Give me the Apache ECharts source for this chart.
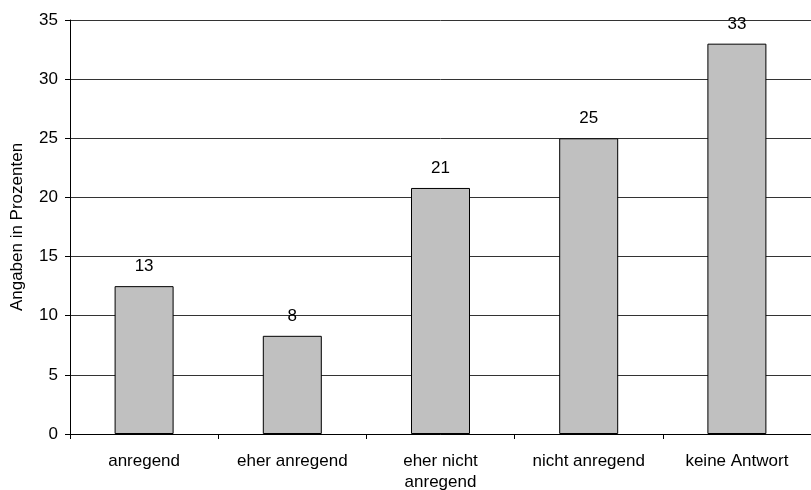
<!DOCTYPE html>
<html>
<head>
<meta charset="utf-8">
<script src="https://cdn.jsdelivr.net/npm/echarts@6/dist/echarts.min.js"></script>
<style>
  html, body { margin: 0; padding: 0; background: #fff; }
  #chart { width: 811px; height: 490px; }
</style>
</head>
<body>
<div id="chart"></div>
<script>
// Antworten und ihre Anteile in Prozent
const categories = ['anregend', 'eher anregend', 'eher nicht\nanregend', 'nicht anregend', 'keine Antwort'];
const percentages = [12.5, 8.3, 20.8, 25, 33];
const yTicks = { min: 0, max: 35, interval: 5 };
const yAxisTitle = 'Angaben in Prozenten';

const chart = echarts.init(document.getElementById('chart'), null, { renderer: 'canvas' });
const font = 'Liberation Sans, Arial, sans-serif';

chart.setOption({
  animation: false,
  grid: { left: 70, right: 0, top: 20, bottom: 56, containLabel: false, outerBoundsMode: 'none' },
  xAxis: {
    type: 'category',
    data: categories,
    axisLine: { lineStyle: { color: '#000', width: 1 } },
    axisTick: { show: true, length: 5, lineStyle: { color: '#000' } },
    axisLabel: { color: '#000', fontFamily: font, fontSize: 17, margin: 17, lineHeight: 21 },
    splitLine: { show: false }
  },
  yAxis: {
    type: 'value',
    min: yTicks.min,
    max: yTicks.max,
    interval: yTicks.interval,
    name: yAxisTitle,
    nameLocation: 'middle',
    nameGap: 44,
    nameTextStyle: { color: '#000', fontFamily: font, fontSize: 17 },
    axisLine: { show: true, lineStyle: { color: '#000', width: 1 } },
    axisTick: { show: true, length: 5, lineStyle: { color: '#000' } },
    axisLabel: { color: '#000', fontFamily: font, fontSize: 17, margin: 12 },
    splitLine: { show: true, lineStyle: { color: '#333', width: 1 } }
  },
  series: [{
    type: 'bar',
    data: percentages,
    barWidth: 59,
    itemStyle: { color: '#c0c0c0', borderColor: '#000', borderWidth: 1 },
    label: {
      show: true,
      position: 'top',
      distance: 11,
      color: '#000',
      fontFamily: font,
      fontSize: 17,
      formatter: p => Math.round(p.value)
    }
  }]
});
</script>
</body>
</html>
